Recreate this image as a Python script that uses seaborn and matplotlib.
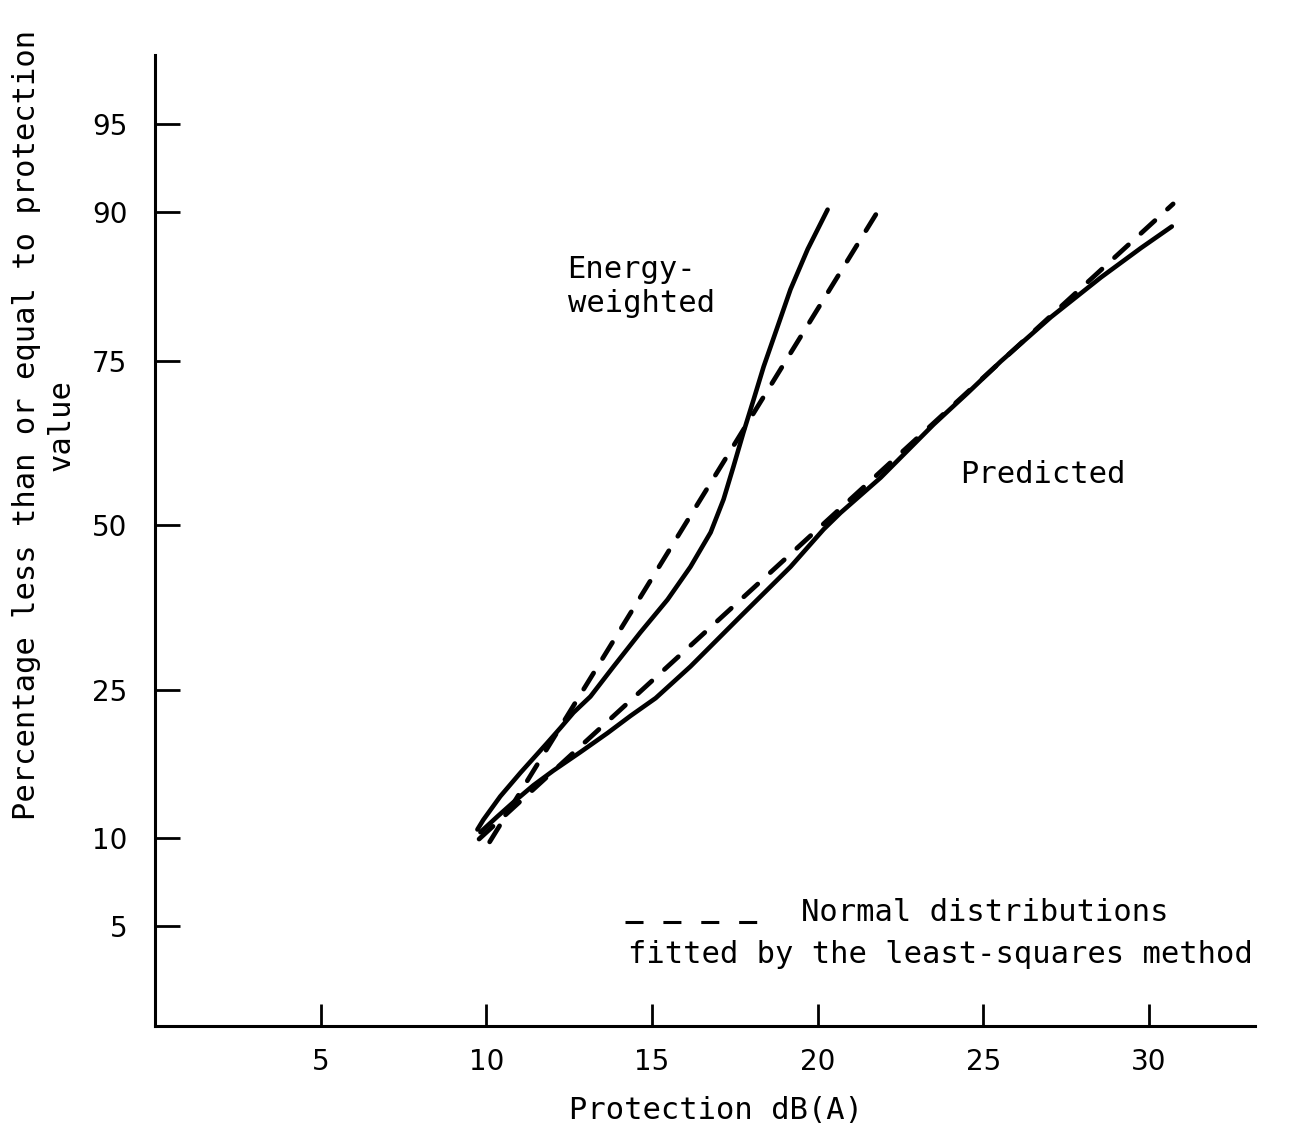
import math
import numpy as np
import pandas as pd
import matplotlib
matplotlib.use("Agg")
import matplotlib.pyplot as plt
import seaborn as sns

# ---- data -------------------------------------------------------------
# Energy-weighted protection (solid curve): protection dB(A), cumulative %
energy_db = [9.73, 9.91, 10.42, 11.03, 11.84, 12.24, 12.63, 13.14, 13.84,
             14.65, 15.47, 16.16, 16.77, 17.16, 17.46, 17.76, 18.07, 18.37,
             18.79, 19.18, 19.70, 20.30]
energy_pct = [10.6, 11.35, 13.3, 15.5, 18.6, 20.3, 22.1, 24.1, 28.1,
              33.0, 38.0, 43.2, 48.8, 54.2, 59.5, 64.8, 69.7, 74.2,
              79.2, 83.3, 87.1, 90.2]

# Predicted protection (solid curve)
pred_db = [9.82, 10.33, 10.82, 11.42, 12.02, 12.84, 13.66, 14.35, 15.11,
           16.16, 17.67, 19.18, 20.18, 20.69, 21.90, 23.50, 24.53, 25.53,
           27.04, 28.55, 29.76, 30.69]
pred_pct = [10.4, 11.6, 12.8, 14.3, 15.7, 17.6, 19.7, 21.7, 23.9,
            28.1, 35.4, 43.2, 49.3, 52.0, 57.7, 66.0, 70.6, 74.9,
            80.3, 84.5, 87.2, 88.95]

# Least-squares normal fits (straight lines on probability paper): end points
energy_fit_db = [10.10, 21.90]
energy_fit_pct = [9.7, 90.4]
pred_fit_db = [9.78, 30.73]
pred_fit_pct = [9.9, 90.6]

x_ticks = [5, 10, 15, 20, 25, 30]
y_ticks = [5, 10, 25, 50, 75, 90, 95]


# ---- normal probability scale ----------------------------------------
_A = [-3.969683028665376e+01, 2.209460984245205e+02, -2.759285104469687e+02,
      1.383577518672690e+02, -3.066479806614716e+01, 2.506628277459239e+00]
_B = [-5.447609879822406e+01, 1.615858368580409e+02, -1.556989798598866e+02,
      6.680131188771972e+01, -1.328068155288572e+01]
_C = [-7.784894002430293e-03, -3.223964580411365e-01, -2.400758277161838e+00,
      -2.549671010229583e+00, 4.374664141464968e+00, 2.938163982698783e+00]
_D = [7.784695709041462e-03, 3.224671290700398e-01, 2.445134137142996e+00,
      3.754408661907416e+00]


def _norm_ppf_scalar(p):
    plow = 0.02425
    if p < plow:
        q = math.sqrt(-2.0 * math.log(p))
        return ((((((_C[0] * q + _C[1]) * q + _C[2]) * q + _C[3]) * q + _C[4]) * q + _C[5]) /
                ((((_D[0] * q + _D[1]) * q + _D[2]) * q + _D[3]) * q + 1.0))
    if p > 1.0 - plow:
        q = math.sqrt(-2.0 * math.log(1.0 - p))
        return -((((((_C[0] * q + _C[1]) * q + _C[2]) * q + _C[3]) * q + _C[4]) * q + _C[5]) /
                 ((((_D[0] * q + _D[1]) * q + _D[2]) * q + _D[3]) * q + 1.0))
    q = p - 0.5
    r = q * q
    return ((((((_A[0] * r + _A[1]) * r + _A[2]) * r + _A[3]) * r + _A[4]) * r + _A[5]) * q /
            (((((_B[0] * r + _B[1]) * r + _B[2]) * r + _B[3]) * r + _B[4]) * r + 1.0))


_ppf_vec = np.vectorize(_norm_ppf_scalar, otypes=[float])
_erf_vec = np.vectorize(math.erf, otypes=[float])


def pct_to_z(pct):
    p = np.clip(np.asarray(pct, dtype=float) / 100.0, 1e-9, 1 - 1e-9)
    return _ppf_vec(p)


def z_to_pct(z):
    z = np.asarray(z, dtype=float)
    return 50.0 * (1.0 + _erf_vec(z / math.sqrt(2.0)))


# ---- figure -----------------------------------------------------------
sns.set_style("ticks")
plt.rcParams["font.family"] = ["DejaVu Sans"]
plt.rcParams["text.color"] = "black"
plt.rcParams["axes.labelcolor"] = "black"
plt.rcParams["xtick.color"] = "black"
plt.rcParams["ytick.color"] = "black"
MONO = "DejaVu Sans Mono"
TXT = 22

fig = plt.figure(figsize=(12.91, 11.32), dpi=100)
ax = fig.add_axes([0.1201, 0.0936, 0.8520, 0.8578])
ax.set_yscale("function", functions=(pct_to_z, z_to_pct))

solid_kw = dict(color="black", linewidth=3.3, estimator=None, sort=False,
                legend=False, ax=ax, solid_joinstyle="round",
                solid_capstyle="round")
sns.lineplot(data=pd.DataFrame({"db": energy_db, "pct": energy_pct}),
             x="db", y="pct", **solid_kw)
sns.lineplot(data=pd.DataFrame({"db": pred_db, "pct": pred_pct}),
             x="db", y="pct", **solid_kw)

for fx, fy in ((energy_fit_db, energy_fit_pct), (pred_fit_db, pred_fit_pct)):
    ln = ax.plot(fx, fy, color="black", linewidth=3.4, linestyle=(0, (4.0, 3.6)))[0]
    ln.set_dash_capstyle("round")

ax.set_xlim(0, 33.2)
ax.set_ylim(2.0, 97.3)
ax.set_xticks(x_ticks)
ax.set_xticklabels([str(v) for v in x_ticks])
ax.set_yticks(y_ticks)
ax.set_yticklabels([str(v) for v in y_ticks])
ax.yaxis.set_minor_locator(matplotlib.ticker.NullLocator())
ax.xaxis.set_minor_locator(matplotlib.ticker.NullLocator())

for side in ("top", "right"):
    ax.spines[side].set_visible(False)
for side in ("left", "bottom"):
    ax.spines[side].set_linewidth(2.2)
    ax.spines[side].set_color("black")

ax.tick_params(axis="y", direction="in", length=18, width=2.0, pad=20,
               labelsize=20, colors="black")
ax.tick_params(axis="x", direction="in", length=16, width=2.0, pad=16,
               labelsize=20, colors="black")

ax.set_xlabel("Protection dB(A)", fontsize=TXT, family=MONO)
ax.xaxis.set_label_coords(0.51, -0.072)
ax.set_ylabel("Percentage less than or equal to protection\nvalue",
              fontsize=TXT, family=MONO, multialignment="center")
ax.yaxis.set_label_coords(-0.0727, 0.619)

# curve labels
ax.text(12.45, 83.6, "Energy-\nweighted", fontsize=TXT, family=MONO,
        ha="left", va="center", multialignment="left")
ax.text(24.3, 58.2, "Predicted", fontsize=TXT, family=MONO,
        ha="left", va="center")

# key for the dashed lines
ax.plot([0.4273, 0.547], [0.1071, 0.1071], transform=ax.transAxes,
        color="black", linewidth=2.2, linestyle=(0, (5.9, 6.5)),
        clip_on=False)
ax.text(19.49, 5.6, "Normal distributions", fontsize=TXT, family=MONO,
        ha="left", va="center")
ax.text(14.29, 3.9, "fitted by the least-squares method", fontsize=TXT,
        family=MONO, ha="left", va="center")

fig.savefig("out.png", dpi=100, facecolor="white")
